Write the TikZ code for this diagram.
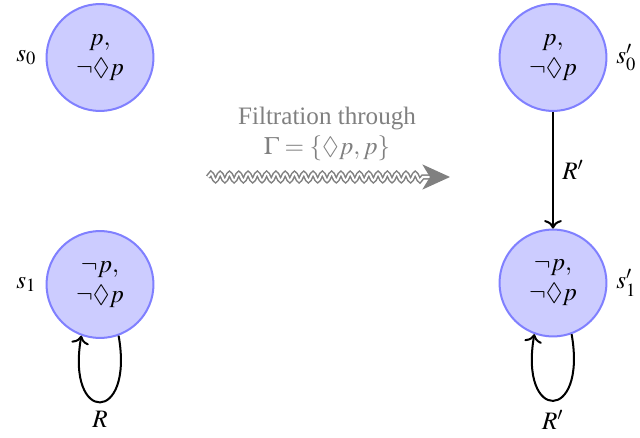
\documentclass[tikz,border=0pt]{standalone}
\usepackage{mathptmx}
\usepackage{amssymb}
\usepackage{fontspec}
\setmainfont{Liberation Serif}
\usetikzlibrary{decorations.pathmorphing,arrows.meta}

\begin{document}
\begin{tikzpicture}[x=0.3984pt,y=0.3984pt,
  world/.style={circle,draw=blue!50,fill=blue!20,thick,minimum size=42.6pt,inner sep=0pt,align=center},
  rel/.style={->,thick},
  filt/.style={gray,double,double distance=0.8pt,line width=0.6pt,decorate,
    decoration={snake,amplitude=1.4pt,segment length=3.7pt,post length=10pt},
    -{Stealth[length=11pt,width=10pt,inset=3pt]}},
]
\useasboundingbox (0,0) rectangle (640,-438);

\node[world,label=left:$s_0$] (s0) at (100,-57.5) {$p,$\\$\neg\Diamond p$};
\node[world,label=left:$s_1$] (s1) at (100,-284.5) {$\neg p,$\\$\neg\Diamond p$};
\node[world,label=right:$s'_0$] (t0) at (553,-57.5) {$p,$\\$\neg\Diamond p$};
\node[world,label=right:$s'_1$] (t1) at (553,-283) {$\neg p,$\\$\neg\Diamond p$};

\draw[rel] (t0) -- node[right] {$R'$} (t1);
\draw[rel] (s1.-70) .. controls +(-80:90) and +(-100:90) .. node[below] {$R$} (s1.-110);
\draw[rel] (t1.-70) .. controls +(-80:90) and +(-100:90) .. node[below] {$R'$} (t1.-110);

\node[text=gray,align=center] (ft) at (327,-134) {Filtration through\\$\Gamma=\{\Diamond p,p\}$};
\coordinate (fa) at (208,-177);
\coordinate (fb) at (450,-177);
\draw[filt] (fa) -- (fb);
\end{tikzpicture}
\end{document}
